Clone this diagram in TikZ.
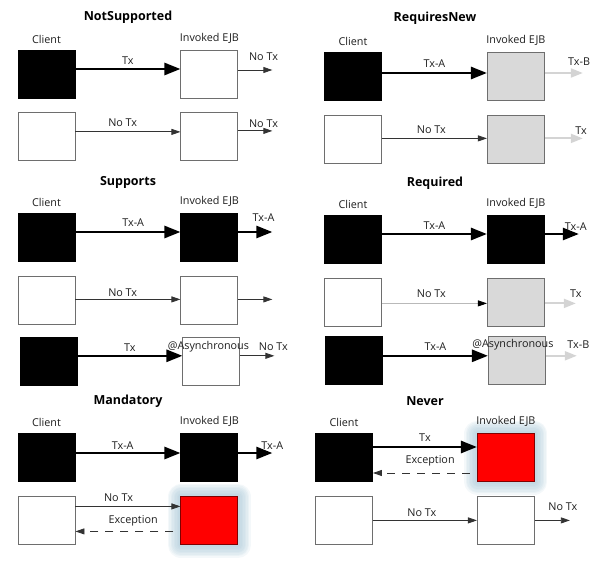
\documentclass[tikz,border=0pt]{standalone}
\usepackage{fontspec}
\setmainfont{Open Sans}
\usetikzlibrary{arrows.meta, positioning}
\definecolor{boxgray}{HTML}{6E6E6E}
\definecolor{txtgray}{HTML}{1E1E1E}
\definecolor{linegray}{HTML}{333333}
\definecolor{newgray}{HTML}{D9D9D9}
\definecolor{lightflow}{HTML}{D4D4D4}
\definecolor{glowc}{HTML}{A3C4D5}
\begin{document}
\begin{tikzpicture}[
    x=1pt, y=-1pt,
    node distance=14pt and 105pt,
    box/.style={draw=boxgray, line width=0.9pt, minimum width=57pt,
                minimum height=48pt, inner sep=0pt},
    intx/.style={box, draw=black, fill=black},
    notx/.style={box, fill=white},
    newtx/.style={box, fill=newgray},
    halo/.style={preaction={draw=glowc, line width=#1, opacity=0.12, line join=round}},
    failed/.style={box, draw=red!50!black, fill=red,
                   halo=26pt, halo=23pt, halo=20pt, halo=17pt, halo=14pt,
                   halo=11pt, halo=8pt, halo=5pt},
    ttl/.style={font=\bfseries\fontsize{12.5}{15}\selectfont, inner sep=0pt},
    role/.style={font=\fontsize{10.8}{13}\selectfont, text=txtgray, inner sep=1pt},
    lbl/.style={font=\fontsize{10.8}{13}\selectfont, text=txtgray, inner sep=1pt},
    txflow/.style={line width=2.6pt, -{Triangle[length=16pt,width=12pt]}},
    call/.style={line width=0.8pt, draw=linegray, -{Triangle[length=9pt,width=6pt]}},
    fadecall/.style={line width=0.8pt, draw=gray!55,
                     -{Triangle[length=9pt,width=6pt,color=black,fill=black]}},
    newflow/.style={line width=2pt, draw=lightflow, -{Triangle[length=12pt,width=9pt]}},
    reject/.style={line width=0.8pt, draw=linegray, dash pattern=on 8pt off 7pt,
                   -{Triangle[length=9pt,width=6pt]}},
]
\useasboundingbox (0,0) rectangle (610,567);

% NotSupported
\node[ttl] (nsTitle) at (128,17) {NotSupported};
\node[intx] (nsC1) at (46.5,74) {};
\node[notx, right=of nsC1] (nsE1) {};
\node[notx, below=of nsC1] (nsC2) {};
\node[notx, below=of nsE1] (nsE2) {};
\node[role, above=5pt of nsC1] (nsClient) {Client};
\node[role, above=5pt of nsE1] (nsEjb) {Invoked EJB};
\coordinate (nsO1) at ([shift={(34pt,4pt)}]nsE1.east);
\coordinate (nsO2) at ([shift={(34pt,6pt)}]nsE2.east);
\draw[txflow] ([yshift=5pt]nsC1.east) -- ([yshift=5pt]nsE1.west)
    node[lbl, midway, above=2pt] (nsL1) {Tx};
\draw[call] (nsE1.east |- nsO1) -- (nsO1) node[lbl, pos=0.74, above=8pt] (nsN1) {No Tx};
\draw[call] ([yshift=5pt]nsC2.east) -- ([yshift=5pt]nsE2.west)
    node[lbl, pos=0.45, above=4pt] (nsL2) {No Tx};
\draw[call] (nsE2.east |- nsO2) -- (nsO2) node[lbl, pos=0.74, above=2pt] (nsN2) {No Tx};

% RequiresNew
\node[ttl] (rnTitle) at (435,18) {RequiresNew};
\node[intx] (rnC1) at (353,76.5) {};
\node[newtx, right=of rnC1] (rnE1) {};
\node[notx, below=of rnC1] (rnC2) {};
\node[newtx, below=of rnE1] (rnE2) {};
\node[role, above=5pt of rnC1] (rnClient) {Client};
\node[role, above=5pt of rnE1] (rnEjb) {Invoked EJB};
\coordinate (rnO1) at ([shift={(38pt,3.5pt)}]rnE1.east);
\coordinate (rnO2) at ([shift={(38pt,1pt)}]rnE2.east);
\draw[txflow] ([yshift=3.5pt]rnC1.east) -- ([yshift=3.5pt]rnE1.west)
    node[lbl, midway, above=3pt] (rnL1) {Tx-A};
\draw[newflow] (rnE1.east |- rnO1) -- (rnO1) node[lbl, pos=0.9, above=5pt] (rnN1) {Tx-B};
\draw[call] ([yshift=1pt]rnC2.east) -- ([yshift=1pt]rnE2.west)
    node[lbl, pos=0.47, above=3pt] (rnL2) {No Tx};
\draw[newflow] (rnE2.east |- rnO2) -- (rnO2) node[lbl, pos=0.95, above=2pt] (rnN2) {Tx};

% Supports
\node[ttl] (suTitle) at (128,182) {Supports};
\node[intx] (suC1) at (46.5,237) {};
\node[intx, right=of suC1] (suE1) {};
\node[notx, below=15pt of suC1] (suC2) {};
\node[notx, below=15pt of suE1] (suE2) {};
\node[intx, below=12pt of suC2, xshift=2pt] (suC3) {};
\node[notx, below=12pt of suE2, xshift=2pt] (suE3) {};
\node[role, above=5pt of suC1] (suClient) {Client};
\node[role, above=5pt of suE1] (suEjb) {Invoked EJB};
\node[lbl, xshift=-3pt, yshift=-9pt] (suAsync) at (suE3.north) {@Asynchronous};
\coordinate (suO1) at ([shift={(34pt,5pt)}]suE1.east);
\coordinate (suO2) at ([shift={(34pt,1.5pt)}]suE2.east);
\coordinate (suO3) at ([shift={(34pt,6pt)}]suE3.east);
\draw[txflow] ([yshift=5pt]suC1.east) -- ([yshift=5pt]suE1.west)
    node[lbl, pos=0.55, above=3pt] (suL1) {Tx-A};
\draw[txflow] (suE1.east |- suO1) -- (suO1) node[lbl, pos=0.74, above=8pt] (suN1) {Tx-A};
\draw[call] ([yshift=1.5pt]suC2.east) -- ([yshift=1.5pt]suE2.west)
    node[lbl, pos=0.45, above=1pt] (suL2) {No Tx};
\draw[call] (suE2.east |- suO2) -- (suO2);
\draw[txflow] ([yshift=6pt]suC3.east) -- ([yshift=6pt]suE3.west)
    node[lbl, midway, above=2pt] (suL3) {Tx};
\draw[call] (suE3.east |- suO3) -- (suO3) node[lbl, pos=0.97, above=4pt] (suN3) {No Tx};

% Required
\node[ttl] (rqTitle) at (435,183) {Required};
\node[intx] (rqC1) at (353,239.5) {};
\node[intx, right=of rqC1] (rqE1) {};
\node[notx, below=of rqC1] (rqC2) {};
\node[newtx, below=of rqE1] (rqE2) {};
\node[intx, below=9pt of rqC2, xshift=1pt] (rqC3) {};
\node[newtx, below=9pt of rqE2, xshift=1pt] (rqE3) {};
\node[role, above=5pt of rqC1] (rqClient) {Client};
\node[role, above=5pt of rqE1] (rqEjb) {Invoked EJB};
\node[lbl, xshift=-4pt, yshift=-9pt] (rqAsync) at (rqE3.north) {@Asynchronous};
\coordinate (rqO1) at ([shift={(34pt,5.5pt)}]rqE1.east);
\coordinate (rqO2) at ([shift={(31pt,-1pt)}]rqE2.east);
\coordinate (rqO3) at ([shift={(31pt,4.5pt)}]rqE3.east);
\draw[txflow] ([yshift=5.5pt]rqC1.east) -- ([yshift=5.5pt]rqE1.west)
    node[lbl, midway, above=2pt] (rqL1) {Tx-A};
\draw[txflow] (rqE1.east |- rqO1) -- (rqO1) node[lbl, pos=0.91, above=1pt] (rqN1) {Tx-A};
\draw[fadecall] ([yshift=-1pt]rqC2.east) -- ([yshift=-1pt]rqE2.west)
    node[lbl, pos=0.47, above=4pt] (rqL2) {No Tx};
\draw[newflow] (rqE2.east |- rqO2) -- (rqO2) node[lbl, pos=1, above=4pt] (rqN2) {Tx};
\draw[txflow] ([yshift=4.5pt]rqC3.east) -- ([yshift=4.5pt]rqE3.west)
    node[lbl, midway, above=3pt] (rqL3) {Tx-A};
\draw[newflow] (rqE3.east |- rqO3) -- (rqO3) node[lbl, pos=1.05, above=5pt] (rqN3) {Tx-B};

% Mandatory
\node[ttl] (maTitle) at (128,401) {Mandatory};
\node[intx] (maC1) at (46.5,457) {};
\node[intx, right=of maC1] (maE1) {};
\node[notx, below=15pt of maC1] (maC2) {};
\node[failed, below=15pt of maE1] (maE2) {};
\node[role, above=5pt of maC1] (maClient) {Client};
\node[role, above=5pt of maE1] (maEjb) {Invoked EJB};
\coordinate (maO1) at ([shift={(34pt,4pt)}]maE1.east);
\draw[txflow] ([yshift=4pt]maC1.east) -- ([yshift=4pt]maE1.west)
    node[lbl, pos=0.45, above=1pt] (maL1) {Tx-A};
\draw[txflow] (maE1.east |- maO1) -- (maO1) node[lbl, pos=1, above=1pt] (maN1) {Tx-A};
\draw[call] ([yshift=14.5pt]maC2.east) -- ([yshift=14.5pt]maE2.west)
    node[lbl, pos=0.41, above=3pt] (maL2) {No Tx};
\draw[reject, shorten <=7pt] ([yshift=-10.5pt]maE2.west) -- ([yshift=-10.5pt]maC2.east)
    node[lbl, pos=0.45, above=4pt] (maX2) {Exception};

% Never
\node[ttl] (nvTitle) at (425,401) {Never};
\node[intx] (nvC1) at (344,457.5) {};
\node[failed, right=104pt of nvC1] (nvE1) {};
\node[notx, below=of nvC1] (nvC2) {};
\node[notx, below=of nvE1] (nvE2) {};
\node[role, above=5pt of nvC1] (nvClient) {Client};
\node[role, above=5pt of nvE1] (nvEjb) {Invoked EJB};
\coordinate (nvO2) at ([xshift=35pt]nvE2.east);
\draw[txflow] ([yshift=10.5pt]nvC1.east) -- ([yshift=10.5pt]nvE1.west)
    node[lbl, midway, above=3pt] (nvL1) {Tx};
\draw[reject, shorten <=7pt] ([yshift=-15.5pt]nvE1.west) -- ([yshift=-15.5pt]nvC1.east)
    node[lbl, pos=0.45, above=6pt] (nvX1) {Exception};
\draw[call] (nvC2) -- (nvE2) node[lbl, pos=0.47, above=2pt] (nvL2) {No Tx};
\draw[call] (nvE2) -- (nvO2) node[lbl, pos=0.8, above=8pt] (nvN2) {No Tx};
\end{tikzpicture}
\end{document}
